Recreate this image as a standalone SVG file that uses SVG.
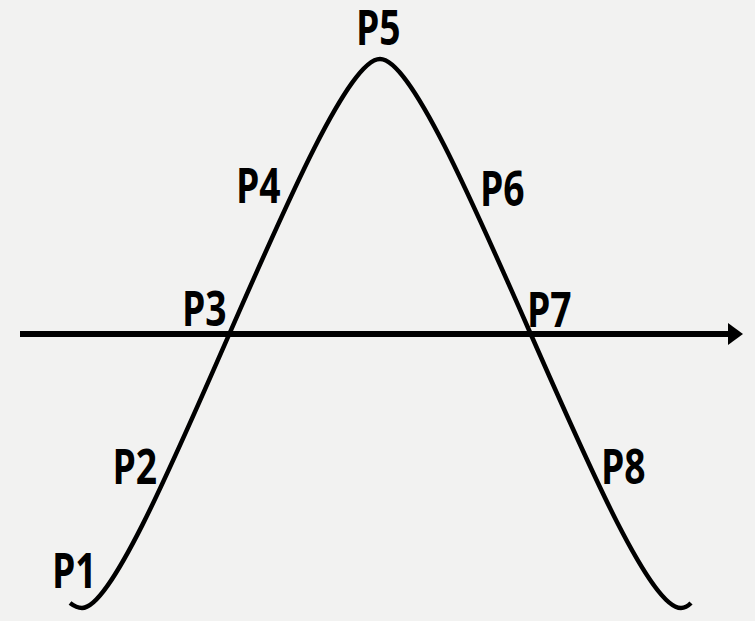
<svg xmlns="http://www.w3.org/2000/svg" width="755" height="621" viewBox="0 0 755 621">
<style>
.lbl{font-family:"Open Sans","Liberation Sans",sans-serif;font-weight:700;font-size:49px;fill:#000}
.curve{fill:none;stroke:#000;stroke-width:4.5;stroke-linecap:butt}
.axis{stroke:#000;stroke-width:6;fill:none}
</style>
<defs>
<marker id="arr" markerUnits="userSpaceOnUse" viewBox="0 0 16 22" refX="1" refY="11" markerWidth="16" markerHeight="22" orient="auto">
<path d="M0,0 L15,11 L0,22 Z" fill="#000"/>
</marker>
</defs>
<rect width="755" height="621" fill="#f2f2f1"/>
<g id="connectors">
<path id="axis" class="axis" d="M20,334 L729,334" marker-end="url(#arr)"/>
<path id="wave" class="curve" d="M70,603 C74,606 78,608 82,608 C138,608 320,59 380,59 C440,59 621,608 681,608 C685,608 688,606 691,603"/>
</g>
<g id="P1"><text class="lbl" transform="translate(52,588) scale(0.76,1)">P1</text></g>
<g id="P2"><text class="lbl" transform="translate(112.5,484) scale(0.76,1)">P2</text></g>
<g id="P3"><text class="lbl" transform="translate(182,326) scale(0.76,1)">P3</text></g>
<g id="P4"><text class="lbl" transform="translate(236,203) scale(0.76,1)">P4</text></g>
<g id="P5"><text class="lbl" transform="translate(356,45) scale(0.76,1)">P5</text></g>
<g id="P6"><text class="lbl" transform="translate(480,206) scale(0.76,1)">P6</text></g>
<g id="P7"><text class="lbl" transform="translate(527,327) scale(0.76,1)">P7</text></g>
<g id="P8"><text class="lbl" transform="translate(601,484) scale(0.76,1)">P8</text></g>
</svg>
